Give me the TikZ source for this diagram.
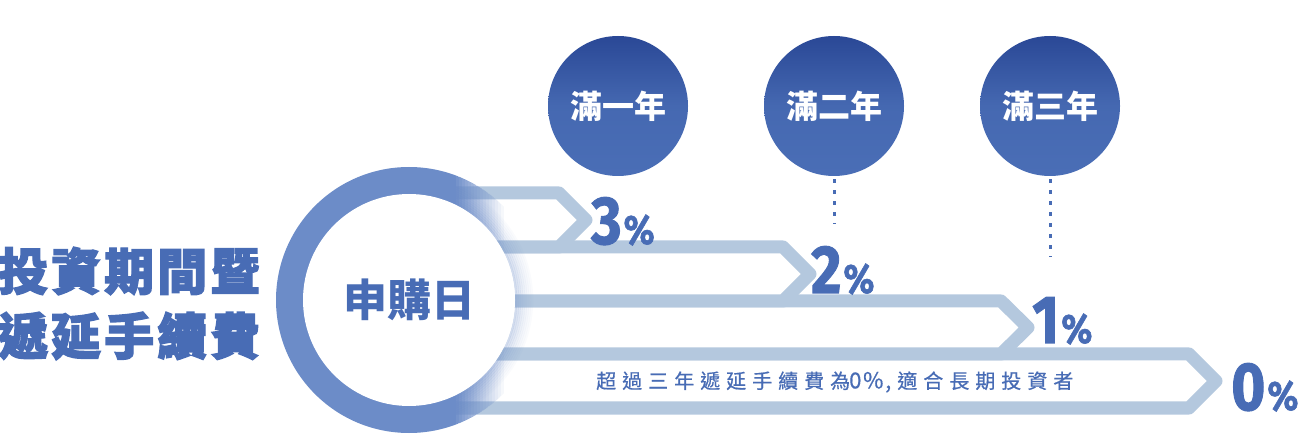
\documentclass[tikz,border=0pt]{standalone}
\usepackage{fontspec}
\newfontfamily\cjk{Noto Sans CJK TC}
\newfontfamily\cjktitle[LetterSpace=6,FakeBold=2.5]{Noto Sans CJK TC}
\newfontfamily\cjkbar[LetterSpace=30,FakeBold=0.6]{Noto Sans CJK TC}
\newfontfamily\cjknum[LetterSpace=8,FakeBold=0.6]{Noto Sans CJK TC}
\newfontfamily\numfont[FakeBold=1.5]{Fira Sans}
\definecolor{textblue}{RGB}{72,108,181}
\definecolor{ringblue}{RGB}{108,140,200}
\definecolor{barblue}{RGB}{180,200,222}
\definecolor{circtop}{RGB}{42,72,150}
\definecolor{circbot}{RGB}{74,110,182}
\tikzset{
  bar/.style={draw=barblue, fill=white, line width=13pt, line join=round},
  yearcircle/.style={circle, minimum size=140pt, inner sep=0pt, top color=circtop, bottom color=circbot, middle color=circbot!85!circtop, text=white, font=\cjk\bfseries\fontsize{32}{32}\selectfont},
  pctnode/.style={anchor=base west, inner sep=0pt, text=textblue},
  dotline/.style={draw=textblue, line width=3pt, dash pattern=on 4pt off 7pt},
  titletext/.style={anchor=west, inner sep=0pt, text=textblue, font=\cjktitle\bfseries\fontsize{50}{50}\selectfont},
}
\newcommand{\pct}[1]{\scalebox{0.86}[1]{\numfont\bfseries\fontsize{68}{68}\selectfont #1}\hspace{2pt}\scalebox{0.88}[1]{\numfont\bfseries\fontsize{41}{41}\selectfont\%}}
\begin{document}
\begin{tikzpicture}[x=1pt,y=-1pt]
\useasboundingbox (0,0) rectangle (1301,443);
% bars
\draw[bar] (400,354) -- (1189,354) -- (1216,381) -- (1189,408) -- (400,408);
\draw[bar] (400,301) -- (1001,301) -- (1028,327.5) -- (1001,354) -- (400,354);
\draw[bar] (400,247) -- (783,247) -- (810,274) -- (783,301) -- (400,301);
\draw[bar] (400,193) -- (559,193) -- (586,220) -- (559,247) -- (400,247);
% ring, fading to the right
\begin{scope}
\clip (409,300) circle[radius=133];
\fill[ringblue] (270,160) rectangle (456,440);
\foreach \i in {0,...,15} {
  \fill[ringblue, opacity={1-(\i+1)/17}] ({456+3*\i},160) rectangle ({459.3+3*\i},440);
}
\end{scope}
% soft glow round the inner disc
\foreach \r/\o in {106/0.30,108/0.25,110/0.21,112/0.17,114/0.13,116/0.10,118/0.07,120/0.05,122/0.03} {
  \fill[ringblue, opacity=\o, even odd rule] (409,300) circle[radius=\r+2.2] (409,300) circle[radius=\r];
}
\node[circle, fill=white, minimum size=212pt, inner sep=0pt, text=textblue, font=\cjk\bfseries\fontsize{44}{44}\selectfont] (start) at (409,300) {申購日};
% year circles
\node[yearcircle] (y1) at (618,106) {滿一年};
\node[yearcircle] (y2) at (834,106) {滿二年};
\node[yearcircle] (y3) at (1050,106) {滿三年};
\coordinate (d2) at (834,224);
\coordinate (d3) at (1050,257);
\draw[dotline] ([yshift=-3pt]y2.south) -- (d2);
\draw[dotline] ([yshift=-3pt]y3.south) -- (d3);
% percents
\node[pctnode] (p3) at (591,244) {\pct{3}};
\node[pctnode] (p2) at (811,293) {\pct{2}};
\node[pctnode] (p1) at (1032,343) {\pct{1}};
\node[pctnode] (p0) at (1231,410) {\pct{0}};
% title
\node[titletext] (t1) at (-2,271) {投資期間暨};
\node[titletext] (t2) at (-2,336) {遞延手續費};
% note
\node[anchor=west, inner sep=0pt, text=textblue, font=\fontsize{20}{20}\selectfont] (note) at (596,382) {{\cjkbar 超過三年遞延手續費為}\hspace{-1pt}{\cjknum\fontsize{22}{22}\selectfont 0\%,}\hspace{6pt}{\cjkbar 適合長期投資者}};
\end{tikzpicture}
\end{document}
